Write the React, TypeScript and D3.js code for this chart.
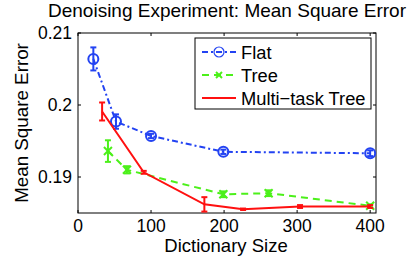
import * as d3 from "d3"

const flatX = [21, 52, 100, 199, 400]
const flatY = [0.2064, 0.1977, 0.1957, 0.1935, 0.1933]
const flatErr = [0.0016, 0.001, 0.0003, 0.0003, 0.0004]

const treeX = [41, 67, 199, 261, 400]
const treeY = [0.1936, 0.191, 0.1876, 0.18775, 0.186]
const treeErr = [0.0015, 0.0005, 0.0004, 0.0004, 0.0002]

const mtX = [33, 90, 173, 226, 304, 400]
const mtY = [0.1991, 0.19065, 0.1862, 0.18552, 0.1859, 0.1859]
const mtErr = [0.00125, 0.0002, 0.001, 0.0001, 0.0002, 0.0002]

const xTicks = [0, 100, 200, 300, 400]
const yTicks = [0.19, 0.2, 0.21]
const yTickLabels = ["0.19", "0.2", "0.21"]

const BLUE = "#2343f2"
const GREEN = "#4cf01a"
const RED = "#ff1010"
const FONT = "Liberation Sans, Arial, sans-serif"

const W = 415
const H = 258
const left = 78, right = 376, top = 33, bottom = 213

export default function App() {
  const x = d3.scaleLinear().domain([0, 408]).range([left, right])
  const y = d3.scaleLinear().domain([0.185, 0.21]).range([bottom, top])

  const line = (xs: number[], ys: number[]) =>
    d3.line<number>().x((_, i) => x(xs[i])).y((_, i) => y(ys[i]))(ys) || ""

  const errBars = (xs: number[], ys: number[], es: number[], color: string) =>
    ys.map((v, i) => {
      const cx = x(xs[i])
      const y0 = y(v - es[i])
      const y1 = y(v + es[i])
      return (
        <g key={i} stroke={color} strokeWidth={2}>
          <line x1={cx} x2={cx} y1={y0} y2={y1} />
          <line x1={cx - 3} x2={cx + 3} y1={y0} y2={y0} />
          <line x1={cx - 3} x2={cx + 3} y1={y1} y2={y1} />
        </g>
      )
    })

  const cross = (cx: number, cy: number, r: number, color: string, key: number) => (
    <g key={key} stroke={color} strokeWidth={2}>
      <line x1={cx - r} x2={cx + r} y1={cy - r} y2={cy + r} />
      <line x1={cx - r} x2={cx + r} y1={cy + r} y2={cy - r} />
    </g>
  )

  const lx0 = 202, lx1 = 236
  const legend = [
    { label: "Flat", color: BLUE, dash: "6,3,2,3", y: 52 },
    { label: "Tree", color: GREEN, dash: "7,5", y: 75 },
    { label: "Multi\u2212task Tree", color: RED, dash: "", y: 98 },
  ]

  return (
    <svg width={W} height={H} style={{ position: "absolute", left: 0, top: 0, background: "#fff" }} fontFamily={FONT}>
      <rect x={0} y={0} width={W} height={H} fill="#fff" />
      <text x={227} y={17} fontSize={19} textAnchor="middle">Denoising Experiment: Mean Square Error</text>

      {/* axes box */}
      <rect x={left} y={top} width={right - left} height={bottom - top} fill="none" stroke="#000" strokeWidth={1} />
      {xTicks.map((t) => (
        <g key={t}>
          <line x1={x(t)} x2={x(t)} y1={bottom} y2={bottom - 3} stroke="#000" />
          <line x1={x(t)} x2={x(t)} y1={top} y2={top + 3} stroke="#000" />
          <text x={x(t)} y={232} fontSize={17.5} textAnchor="middle">{t}</text>
        </g>
      ))}
      {yTicks.map((t, i) => (
        <g key={t}>
          <line x1={left} x2={left + 3} y1={y(t)} y2={y(t)} stroke="#000" />
          <line x1={right} x2={right - 3} y1={y(t)} y2={y(t)} stroke="#000" />
          <text x={72} y={y(t) + 6} fontSize={17.5} textAnchor="end">{yTickLabels[i]}</text>
        </g>
      ))}
      <text x={226} y={252} fontSize={18.5} textAnchor="middle">Dictionary Size</text>
      <text transform={`translate(28,${(top + bottom) / 2}) rotate(-90)`} fontSize={18.8} textAnchor="middle">Mean Square Error</text>

      {/* Flat */}
      <path d={line(flatX, flatY)} fill="none" stroke={BLUE} strokeWidth={2} strokeDasharray="6,3,2,3" />
      {errBars(flatX, flatY, flatErr, BLUE)}
      {flatY.map((v, i) => (
        <circle key={i} cx={x(flatX[i])} cy={y(v)} r={5} fill="none" stroke={BLUE} strokeWidth={2} />
      ))}

      {/* Tree */}
      <path d={line(treeX, treeY)} fill="none" stroke={GREEN} strokeWidth={2} strokeDasharray="7,5" />
      {errBars(treeX, treeY, treeErr, GREEN)}
      {treeY.map((v, i) => cross(x(treeX[i]), y(v), 4, GREEN, i))}

      {/* Multi-task Tree */}
      <path d={line(mtX, mtY)} fill="none" stroke={RED} strokeWidth={2} />
      {errBars(mtX, mtY, mtErr, RED)}

      {/* legend */}
      <rect x={195} y={38} width={176} height={71} fill="#fff" stroke="#000" strokeWidth={1} />
      {legend.map((d) => (
        <g key={d.label}>
          <line x1={lx0} x2={lx1} y1={d.y} y2={d.y} stroke={d.color} strokeWidth={2} strokeDasharray={d.dash || undefined} />
          {d.label === "Flat" && <circle cx={(lx0 + lx1) / 2} cy={d.y} r={5} fill="none" stroke={BLUE} strokeWidth={1.2} />}
          {d.label === "Tree" && cross((lx0 + lx1) / 2, d.y, 3, GREEN, 0)}
          <text x={241} y={d.y + 6.5} fontSize={18.3}>{d.label}</text>
        </g>
      ))}
    </svg>
  )
}
